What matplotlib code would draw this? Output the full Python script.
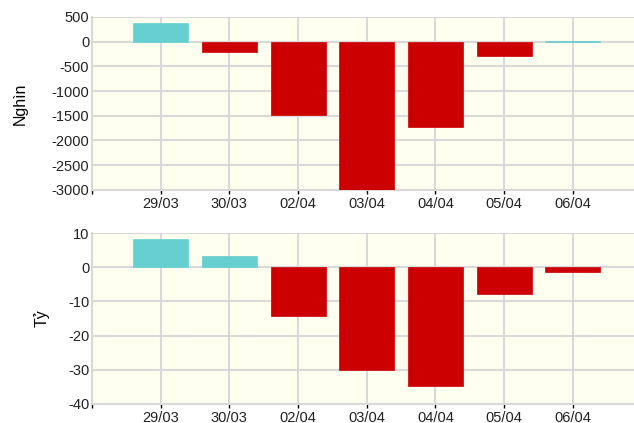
import matplotlib
matplotlib.use("Agg")
import matplotlib.pyplot as plt

dates = ['29/03', '30/03', '02/04', '03/04', '04/04', '05/04', '06/04']
nghin = [380, -210, -1490, -3000, -1720, -300, 20]
ty = [8.3, 3.3, -14.2, -30.2, -34.8, -7.8, -1.5]

pos_color = '#66cfcf'
neg_color = '#cc0000'
grid_color = '#d9d9d9'
bg = '#fffff0'

plt.rcParams['font.family'] = ['Liberation Sans', 'DejaVu Sans']
plt.rcParams['axes.unicode_minus'] = False

fig = plt.figure(figsize=(6.34, 4.23), dpi=100)
ax1 = fig.add_axes([0.145, 0.551, 0.855, 0.409])
ax2 = fig.add_axes([0.145, 0.045, 0.855, 0.404])


def draw(ax, vals, ylim, yticks, label, labelx):
    x = list(range(len(vals)))
    colors = [pos_color if v >= 0 else neg_color for v in vals]
    ax.set_facecolor(bg)
    ax.bar(x, vals, width=0.8, color=colors, edgecolor=colors, linewidth=0.5, zorder=3)
    ax.set_xlim(-1, 6.89)
    ax.set_ylim(*ylim)
    ax.set_yticks(yticks)
    ax.set_xticks(range(-1, len(vals)))
    ax.set_xticklabels([''] + dates)
    ax.grid(True, color=grid_color, linewidth=1.5, zorder=0)
    for s in ['top', 'right']:
        ax.spines[s].set_visible(False)
    ax.spines['left'].set_color(grid_color)
    ax.spines['left'].set_linewidth(1.5)
    ax.spines['bottom'].set_color(grid_color)
    ax.spines['bottom'].set_linewidth(1.5)
    ax.tick_params(axis='y', length=0, labelsize=10.5, pad=2, colors='#222222')
    ax.tick_params(axis='x', length=3, width=1, color='black', labelsize=10.5, pad=2, labelcolor='#222222')
    ax.set_ylabel(label, fontsize=11.5)
    ax.yaxis.set_label_coords(labelx, 0.5)


draw(ax1, nghin, (-3000, 500), range(-3000, 501, 500), 'Nghìn', (28 - 92) / 542)
draw(ax2, ty, (-40, 10), range(-40, 11, 10), 'Tỷ', (50 - 92) / 542)

fig.savefig('out.png', dpi=100)
